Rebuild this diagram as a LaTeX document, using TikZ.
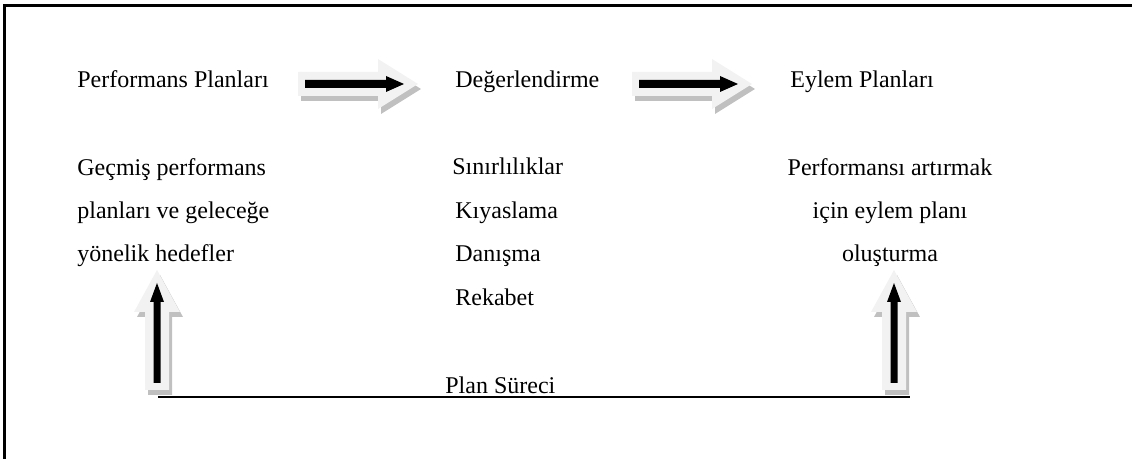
\documentclass[tikz,border=0pt]{standalone}
\usepackage{fontspec}
\setmainfont{Liberation Serif}
\definecolor{lightc}{HTML}{F2F2F2}
\definecolor{shadowc}{HTML}{C0C0C0}
\tikzset{
  lbl/.style={inner sep=0pt, font=\fontsize{12pt}{14pt}\selectfont},
  harr/.pic={
    \fill[shadowc, shift={(3,5)}] (0,-12) -- (80,-12) -- (80,-25) -- (120,0) -- (80,25) -- (80,12) -- (0,12) -- cycle;
    \fill[lightc] (0,-12) -- (80,-12) -- (80,-25) -- (120,0) -- (80,25) -- (80,12) -- (0,12) -- cycle;
    \fill[black] (7,-4) -- (88,-4) -- (88,-8) -- (106,0) -- (88,8) -- (88,4) -- (7,4) -- cycle;
  },
  varr/.pic={
    \fill[shadowc, shift={(3,5)}] (-12,0) -- (-12,-78) -- (-23,-78) -- (0,-120) -- (23,-78) -- (12,-78) -- (12,0) -- cycle;
    \fill[lightc] (-12,0) -- (-12,-78) -- (-23,-78) -- (0,-120) -- (23,-78) -- (12,-78) -- (12,0) -- cycle;
    \fill[black] (-3.5,-7) -- (-3.5,-88) -- (-7,-88) -- (0,-107) -- (7,-88) -- (3.5,-88) -- (3.5,-7) -- cycle;
  }
}
\begin{document}
\begin{tikzpicture}[x=0.5pt,y=-0.5pt]
\useasboundingbox (0,0) rectangle (1132,459);
% frame (only top and left sides visible)
\draw[line width=1.5pt] (4.5,470) -- (4.5,5.5) -- (1145,5.5);

% top row
\node[lbl, anchor=base west] (pp) at (77,88) {Performans Planları};
\node[lbl, anchor=base west] (dg) at (455,88) {Değerlendirme};
\node[lbl, anchor=base west] (ep) at (790,88) {Eylem Planları};
\pic (a1) at (298,84) {harr};
\pic (a2) at (632,84) {harr};

% left column
\node[lbl, anchor=base west] (l1) at (77,176) {Geçmiş performans};
\node[lbl, anchor=base west] (l2) at (77,219) {planları ve geleceğe};
\node[lbl, anchor=base west] (l3) at (77,262) {yönelik hedefler};

% middle column
\node[lbl, anchor=base west] (m1) at (452,175) {Sınırlılıklar};
\node[lbl, anchor=base west] (m2) at (455,219) {Kıyaslama};
\node[lbl, anchor=base west] (m3) at (455,262) {Danışma};
\node[lbl, anchor=base west] (m4) at (455,306) {Rekabet};

% right column
\node[lbl, anchor=base] (r1) at (890,176) {Performansı artırmak};
\node[lbl, anchor=base] (r2) at (890,219) {için eylem planı};
\node[lbl, anchor=base] (r3) at (890,262) {oluşturma};

% vertical arrows
\pic (va1) at (157,390) {varr};
\pic (va2) at (894,390) {varr};

% plan process line
\coordinate (ls) at (158,397);
\coordinate (le) at (910,397);
\draw[line width=1pt] (ls) -- (le);
\node[lbl, anchor=base west] (ps) at (445,394) {Plan Süreci};
\end{tikzpicture}
\end{document}
